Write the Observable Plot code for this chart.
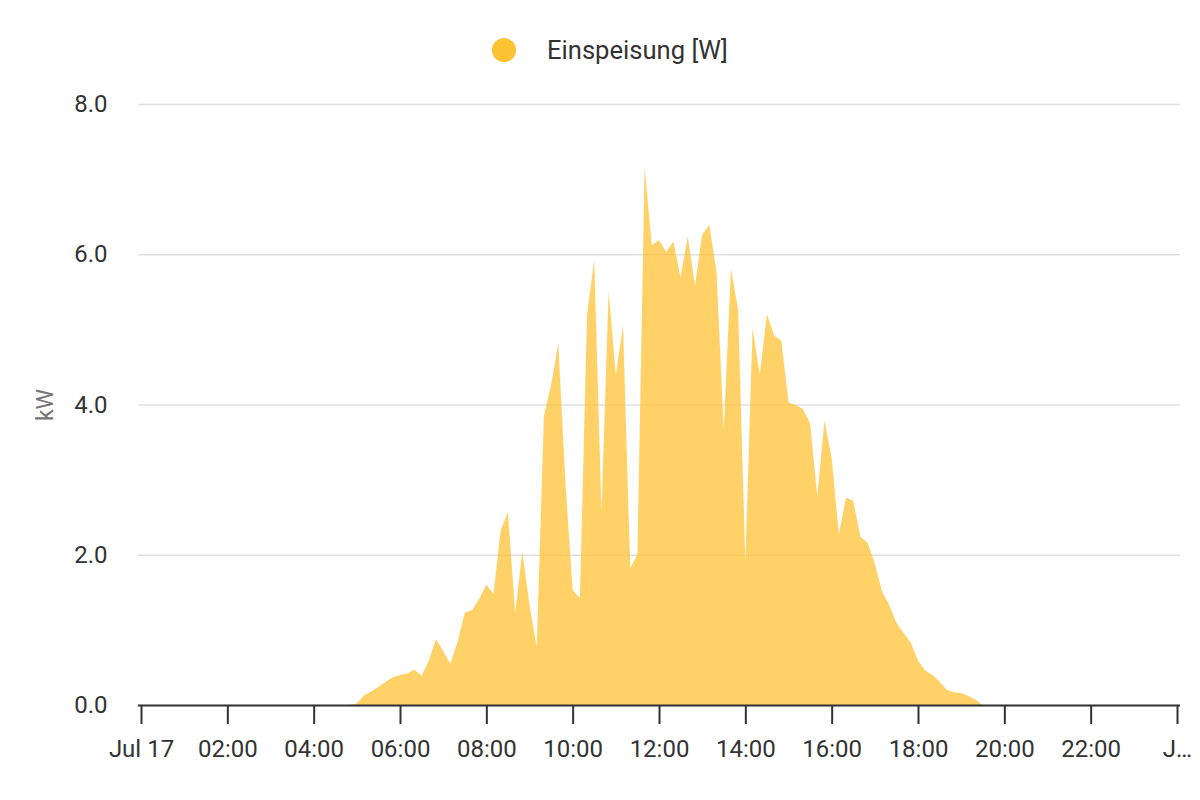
<!DOCTYPE html>
<html>
<head>
<meta charset="utf-8">
<script src="https://cdn.jsdelivr.net/npm/d3@7"></script>
<script src="https://cdn.jsdelivr.net/npm/@observablehq/plot@0.6"></script>
<style>
  body { margin: 0; background: #fff; font-family: Roboto, "Noto Sans", sans-serif; }
  #wrap { position: relative; width: 1200px; height: 800px; }
  #legend { position: absolute; top: 0; left: 0; width: 1200px; height: 90px; }
  #legend .dot { position: absolute; left: 492px; top: 38px; width: 24px; height: 24px; border-radius: 50%; background: #ffc233; }
  #legend .lbl { position: absolute; left: 547px; top: 35px; font-size: 25.6px; line-height: 30px; color: #333; white-space: nowrap; }
  #ylabel { position: absolute; left: 45px; top: 405px; transform: translate(-50%, -50%) rotate(-90deg); font-size: 23px; color: #757575; white-space: nowrap; }
  #chart { position: absolute; top: 90px; left: 0; }
</style>
</head>
<body>
<div id="wrap">
  <div id="legend"><div class="dot"></div><div class="lbl">Einspeisung [W]</div></div>
  <div id="chart"></div>
  <div id="ylabel">kW</div>
</div>
<script>
const seriesName = "Einspeisung [W]";
const times = ["04:50","05:00","05:10","05:20","05:30","05:40","05:50","06:00","06:10","06:20","06:30","06:40","06:50",
  "07:00","07:10","07:20","07:30","07:40","07:50","08:00","08:10","08:20","08:30","08:40","08:50",
  "09:00","09:10","09:20","09:30","09:40","09:50","10:00","10:10","10:20","10:30","10:40","10:50",
  "11:00","11:10","11:20","11:30","11:40","11:50","12:00","12:10","12:20","12:30","12:40","12:50",
  "13:00","13:10","13:20","13:30","13:40","13:50","14:00","14:10","14:20","14:30","14:40","14:50",
  "15:00","15:10","15:20","15:30","15:40","15:50","16:00","16:10","16:20","16:30","16:40","16:50",
  "17:00","17:10","17:20","17:30","17:40","17:50","18:00","18:10","18:20","18:30","18:40","18:50",
  "19:00","19:10","19:20","19:30"];
const kW = [0,0.02,0.13,0.18,0.24,0.31,0.37,0.40,0.42,0.47,0.39,0.59,0.88,
  0.72,0.55,0.84,1.23,1.26,1.41,1.60,1.48,2.33,2.57,1.22,2.04,
  1.33,0.77,3.84,4.26,4.82,2.95,1.53,1.42,5.19,5.93,2.57,5.51,
  4.39,5.05,1.82,2.01,7.16,6.12,6.19,6.03,6.17,5.69,6.24,5.58,
  6.26,6.39,5.76,3.65,5.81,5.26,1.89,5.02,4.40,5.20,4.92,4.85,
  4.03,3.99,3.94,3.75,2.78,3.78,3.29,2.27,2.76,2.72,2.24,2.16,
  1.88,1.51,1.33,1.09,0.96,0.83,0.59,0.46,0.40,0.31,0.20,0.17,
  0.16,0.12,0.07,0];
const xTickTimes = ["00:00","02:00","04:00","06:00","08:00","10:00","12:00","14:00","16:00","18:00","20:00","22:00","24:00"];
const xTickLabels = ["Jul 17","02:00","04:00","06:00","08:00","10:00","12:00","14:00","16:00","18:00","20:00","22:00","J…"];
const yTicks = [0, 2, 4, 6, 8];

const toDate = s => { const [h, m] = s.split(":").map(Number); return new Date(2023, 6, 17, h, m); };
const data = times.map((t, i) => ({ time: toDate(t), value: kW[i] }));
const tickDates = xTickTimes.map(toDate);
const labelByTime = new Map(tickDates.map((d, i) => [+d, xTickLabels[i]]));

const chart = Plot.plot({
  width: 1200,
  height: 710,
  marginTop: 14,
  marginBottom: 95,
  marginLeft: 138,
  marginRight: 20,
  style: { fontFamily: "Roboto, sans-serif", fontSize: "24px", color: "#333", background: "#fff" },
  x: { type: "time", domain: [tickDates[0], tickDates[tickDates.length - 1]], insetLeft: 3, insetRight: 3 },
  y: { domain: [0, 8] },
  marks: [
    Plot.gridY(yTicks, { stroke: "#e0e0e0", strokeOpacity: 1, strokeWidth: 1.5 }),
    Plot.areaY(data, { x: "time", y: "value", fill: "#ffc233", fillOpacity: 0.75, curve: "linear" }),
    Plot.ruleY([0], { stroke: "#333", strokeWidth: 2 }),
    Plot.axisX(tickDates, { tickSize: 19, tickPadding: 15, stroke: "#333", strokeWidth: 2, tickFormat: d => labelByTime.get(+d), label: null, fill: "#333" }),
    Plot.axisY(yTicks, { tickSize: 0, tickPadding: 31, tickFormat: d => d.toFixed(1), label: null, fill: "#333" })
  ]
});
document.getElementById("chart").appendChild(chart);
</script>
</body>
</html>
